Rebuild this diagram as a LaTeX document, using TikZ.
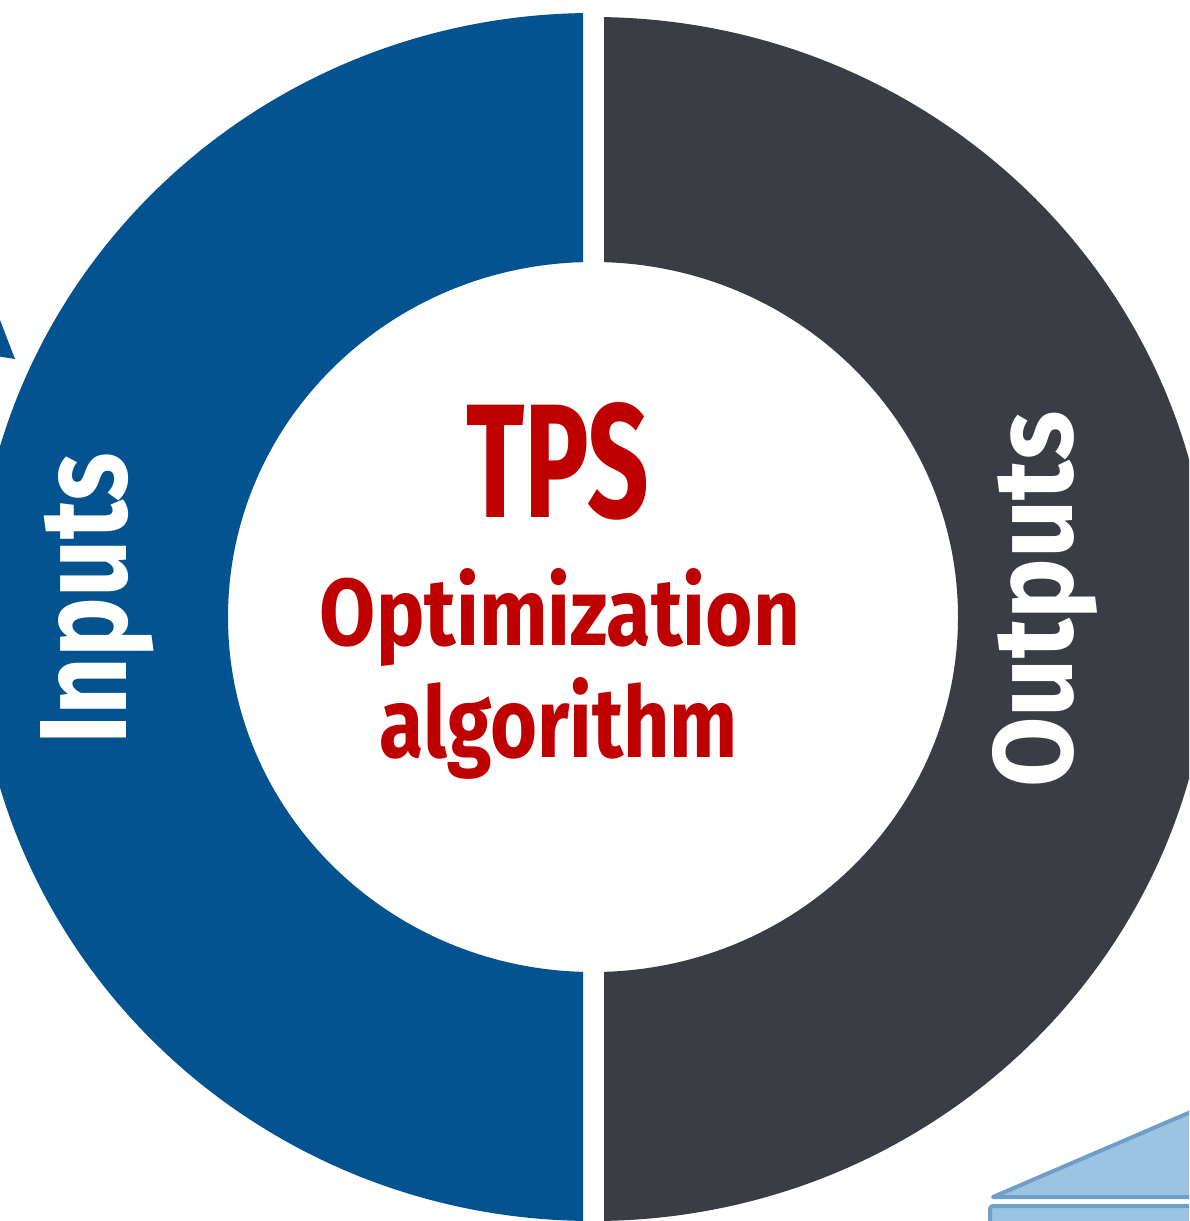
\documentclass[tikz,border=0pt]{standalone}
\usepackage{fontspec}
\setmainfont{Fira Sans}
\usepackage{graphicx}
\definecolor{ringblue}{HTML}{02538F}
\definecolor{ringdark}{HTML}{3B3D45}
\definecolor{tpsred}{HTML}{BE0000}
\definecolor{lightfill}{HTML}{9DC3E3}
\definecolor{lightedge}{HTML}{6F9FC8}
\tikzset{
  ringtext/.style={text=white, inner sep=0pt, font=\bfseries, rotate=90, anchor=base west},
  centertext/.style={text=tpsred, inner sep=0pt, font=\bfseries, anchor=base},
  pieceshape/.style={fill=lightfill, draw=lightedge, line width=4pt, line join=round}
}
\begin{document}
\begin{tikzpicture}[x=1pt,y=-1pt]
\useasboundingbox (0,0) rectangle (1189,1221);
\clip (0,0) rectangle (1189,1221);
\fill[white] (0,0) rectangle (1189,1221);
% left (blue) half of the ring
\begin{scope}
  \clip (-50,-50) rectangle (583,1300);
  \fill[ringblue, even odd rule] (593,617) ellipse [x radius=618, y radius=604]
        (593,617) ellipse [x radius=365, y radius=355];
\end{scope}
% right (dark) half of the ring
\begin{scope}
  \clip (604,-50) rectangle (1300,1300);
  \fill[ringdark, even odd rule] (593,619) ellipse [x radius=618, y radius=602]
        (593,617) ellipse [x radius=365, y radius=355];
\end{scope}
% partial arrow head at the left edge
\fill[ringblue] (-10,294) -- (15,359) -- (-10,355) -- cycle;
% partial shape at the bottom right
\draw[pieceshape] (993,1197) -- (1200,1108) -- (1200,1197) -- cycle;
\draw[pieceshape, rounded corners=3pt] (990,1206) rectangle (1210,1240);
% ring labels
\node[ringtext] (inlabel) at (126,745) {\resizebox{292pt}{86pt}{Inputs}};
\node[ringtext] (outlabel) at (1072,788) {\resizebox{376pt}{80pt}{Outputs}};
% centre labels
\node[centertext] (tps) at (558,517) {\resizebox{183pt}{115pt}{TPS}};
\node[centertext] (opt) at (560,645) {\resizebox{480pt}{77pt}{Optimization}};
\node[centertext] (alg) at (559,757) {\resizebox{358pt}{80pt}{algorithm}};
\end{tikzpicture}
\end{document}
